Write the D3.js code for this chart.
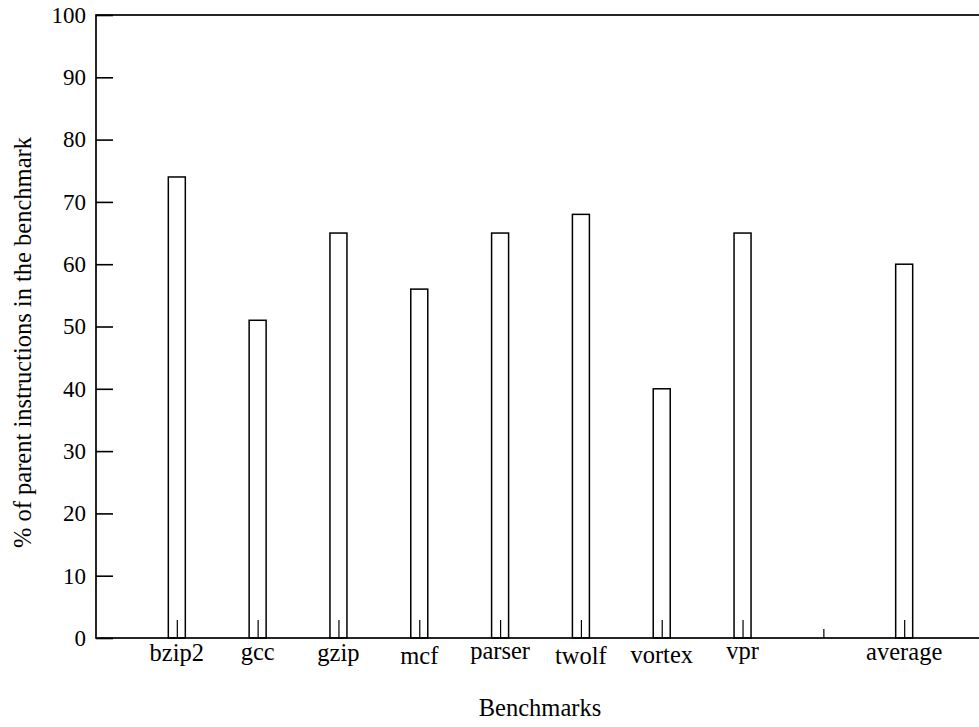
<!DOCTYPE html>
<html><head><meta charset="utf-8">
<script src="https://cdn.jsdelivr.net/npm/d3@7"></script>
<style>body{margin:0;background:#fff}svg{display:block}</style>
</head><body>
<svg id="c" width="979" height="727" style="font-family:'Liberation Serif','Times New Roman',Times,serif"></svg>
<script>
const categories = ["bzip2","gcc","gzip","mcf","parser","twolf","vortex","vpr","","average"];
const values = [74,51,65,56,65,68,40,65,0,60];
const yTicks = [0,10,20,30,40,50,60,70,80,90,100];
const xTitle = "Benchmarks";
const yTitle = "% of parent instructions in the benchmark";

const FF = "'Liberation Serif', 'Times New Roman', Times, serif";
const fsTick = 23, fsLab = 24.5;
const svg = d3.select("#c");
const L = 96, R = 985, T = 15, B = 638;
const x = d3.scalePoint().domain(categories).range([L, R]).padding(1);
const y = d3.scaleLinear().domain([0, 100]).range([B, T]);
function txt(sel, fs) { return sel.style("font-family", FF).style("font-size", fs + "px").style("fill", "#000"); }

svg.append("rect").attr("x", L).attr("y", T).attr("width", R - L).attr("height", B - T)
  .attr("fill", "none").attr("stroke", "#000").attr("stroke-width", 1.7);

const yAxis = d3.axisLeft(y).tickValues(yTicks).tickSize(-17).tickPadding(10).tickFormat(d3.format("d"));
const gy = svg.append("g").attr("transform", `translate(${L},0)`).call(yAxis);
gy.attr("font-family", null).attr("font-size", null);
gy.select(".domain").remove();
gy.selectAll(".tick line").attr("stroke", "#000").attr("stroke-width", 1.6);
txt(gy.selectAll(".tick text"), fsTick);

const bw = 17;
svg.append("g").selectAll("rect").data(categories).join("rect")
  .attr("x", d => x(d) - bw / 2)
  .attr("y", (d, i) => y(values[i]))
  .attr("width", bw)
  .attr("height", (d, i) => B - y(values[i]))
  .attr("fill", "none").attr("stroke", "#000").attr("stroke-width", 1.5);

const xAxis = d3.axisBottom(x).tickSize(0).tickFormat("");
const gx = svg.append("g").attr("transform", `translate(0,${B})`).call(xAxis);
gx.attr("font-family", null).attr("font-size", null);
gx.select(".domain").remove();
gx.selectAll(".tick").append("line").attr("y1", 0).attr("y2", d => d === "" ? -9 : -18)
  .attr("stroke", "#000").attr("stroke-width", 1.2);

// category labels, vertically centred on their ink like the reference
const cv = document.createElement("canvas").getContext("2d");
cv.font = `${fsLab}px ${FF}`;
txt(svg.append("g").selectAll("text").data(categories.filter(d => d)).join("text")
  .attr("x", d => x(d))
  .attr("y", d => {
    const m = cv.measureText(d);
    const a = m.actualBoundingBoxAscent || 12, de = m.actualBoundingBoxDescent || 0;
    return 655 + (a - de) / 2;
  })
  .attr("text-anchor", "middle").text(d => d), fsLab);

txt(svg.append("text").attr("x", 540).attr("y", 716).attr("text-anchor", "middle").text(xTitle), fsLab);
txt(svg.append("text").attr("transform", "translate(31,548) rotate(-90)")
  .attr("text-anchor", "start").text(yTitle), fsLab);
</script>
</body></html>
